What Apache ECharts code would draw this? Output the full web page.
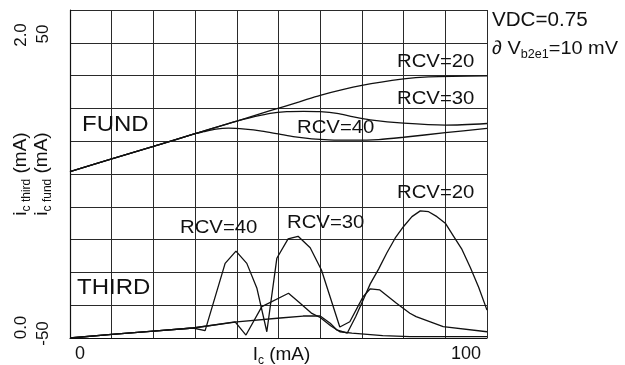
<!DOCTYPE html>
<html>
<head>
<meta charset="utf-8">
<script src="https://cdn.jsdelivr.net/npm/echarts@6/dist/echarts.min.js"></script>
<style>
  html, body { margin: 0; padding: 0; background: #fff; }
  #chart { width: 625px; height: 365px; }
</style>
</head>
<body>
<div id="chart"></div>
<script>
  // tick labels that are printed
  var xTickLabels = [0, 100];
  var fundTickLabels = [-50, 50];
  var thirdTickLabels = [0, 2];

  // fundamental current (mA) vs Ic (mA)
  var fund20 = [[0,0.7],[10,4.6],[20,8.4],[30,12.3],[40,16.1],[48,19.3],[55,22.0],[60,24.0],[70,27.0],[80,29.0],[86,29.6],[100,29.9]];
  var fund30 = [[0,0.7],[10,4.6],[20,8.4],[30,12.3],[40,16.1],[44,17.4],[48,18.5],[52,19.0],[56,19.1],[60,19.0],[64,18.5],[68,17.4],[72,16.5],[80,15.5],[90,14.9],[100,15.4]];
  var fund40 = [[0,0.7],[10,4.6],[20,8.4],[30,12.3],[32,12.9],[35,13.7],[38,14.0],[42,13.7],[46,13.1],[50,12.2],[54,11.3],[58,10.7],[62,10.4],[68,10.3],[74,10.5],[80,11.2],[90,12.6],[100,13.9]];

  // third harmonic current (mA) vs Ic (mA)
  var third40 = [[0,0],[10,0.022],[20,0.042],[29.5,0.061],[32.4,0.045],[37.2,0.455],[39.8,0.53],[42.4,0.455],[44.8,0.305],[47.2,0.038],[49.6,0.486],[52.3,0.604],[54.7,0.62],[57.6,0.55],[60.3,0.415],[64.7,0.067],[67.1,0.099],[70.3,0.252],[72,0.30],[74.3,0.293],[78.3,0.212],[81.5,0.151],[83,0.13],[89.5,0.069],[100,0.038]];
  var third30 = [[0,0],[10,0.022],[20,0.042],[29.5,0.061],[39.6,0.098],[42.2,0.018],[46,0.191],[52.4,0.273],[55.2,0.212],[58,0.15],[60,0.125],[62.5,0.075],[64.7,0.038],[67.6,0.030],[75,0.015],[81.5,0.008],[100,0.008]];
  var third20 = [[0,0],[10,0.022],[20,0.042],[29.5,0.061],[40,0.098],[50.4,0.122],[55.9,0.134],[60,0.134],[62.4,0.09],[64,0.049],[66.5,0.03],[68.5,0.13],[70.3,0.232],[72,0.33],[74,0.42],[76,0.52],[78,0.61],[80,0.68],[82,0.74],[84,0.775],[86,0.77],[88,0.74],[90,0.70],[92,0.62],[94,0.54],[96,0.43],[98,0.31],[100,0.17]];

  var font = 'Liberation Sans, Arial, Helvetica, sans-serif';
  var ink = '#111';
  var gridLine = { color: '#2a2a2a', width: 1 };

  function isTick(v, list) {
    for (var i = 0; i < list.length; i++) {
      if (Math.abs(v - list[i]) < 1e-6) return true;
    }
    return false;
  }

  function curve(name, data, yIndex, smooth) {
    return {
      name: name,
      type: 'line',
      data: data,
      yAxisIndex: yIndex,
      showSymbol: false,
      smooth: smooth,
      silent: true,
      lineStyle: { color: ink, width: 1.3 },
      z: 3
    };
  }

  function note(text, x, y, size, sx) {
    return {
      type: 'text', x: x, y: y, scaleX: sx, silent: true, z: 10,
      style: {
        text: text, x: 0, y: 0, align: 'left', verticalAlign: 'middle',
        fill: ink, fontSize: size, fontFamily: font,
        rich: {
          m: { fontSize: size, fontFamily: font, fill: ink, lineHeight: 24 },
          s: { fontSize: 12, fontFamily: font, fill: ink, lineHeight: 12, verticalAlign: 'bottom' }
        }
      }
    };
  }

  var nameRich = {
    m: { fontSize: 19, fontFamily: font, color: ink, lineHeight: 24 },
    s: { fontSize: 12, fontFamily: font, color: ink, lineHeight: 12, verticalAlign: 'bottom' }
  };

  var chart = echarts.init(document.getElementById('chart'));
  var option = {
    backgroundColor: '#fff',
    animation: false,
    grid: { left: 70, top: 10, right: 138, bottom: 27, containLabel: false, outerBoundsMode: 'none' },
    xAxis: {
      type: 'value', min: 0, max: 100, interval: 10,
      axisLine: { show: true, onZero: false, lineStyle: { color: ink, width: 1.2 } },
      axisTick: { show: false },
      splitLine: { show: true, lineStyle: gridLine },
      axisLabel: {
        showMinLabel: true, showMaxLabel: true, margin: 7,
        formatter: function (v) {
          if (!isTick(v, xTickLabels)) return '';
          return v === xTickLabels[0] ? '{lo|' + v + '}' : '{hi|' + v + '}';
        },
        rich: {
          lo: { fontSize: 18, fontFamily: font, color: ink, padding: [0, 0, 0, 20] },
          hi: { fontSize: 18, fontFamily: font, color: ink, padding: [0, 42, 0, 0] }
        }
      },
      name: '{m|I}{s|c}{m| (mA)}',
      nameLocation: 'middle', nameGap: 5, nameMoveOverlap: false,
      nameTextStyle: { rich: nameRich, padding: [0, 0, 0, 6] }
    },
    yAxis: [
      {
        type: 'value', min: -50, max: 50, interval: 10, position: 'left',
        axisLine: { show: true, onZero: false, lineStyle: { color: ink, width: 1.2 } },
        axisTick: { show: false },
        splitLine: { show: true, lineStyle: gridLine },
        axisLabel: {
          rotate: 90, margin: 18, showMinLabel: true, showMaxLabel: true,
          formatter: function (v) {
            if (!isTick(v, fundTickLabels)) return '';
            return v > 0 ? '{t|' + v + '}' : '{b|' + v + '}';
          },
          rich: {
            t: { fontSize: 17, fontFamily: font, color: ink, padding: [0, 48, 0, 0] },
            b: { fontSize: 17, fontFamily: font, color: ink, padding: [0, 0, 0, 9] }
          }
        },
        name: '{m|i}{s|c fund}{m| (mA)}',
        nameLocation: 'middle', nameRotate: 90, nameGap: 16, nameMoveOverlap: false,
        nameTextStyle: { rich: nameRich }
      },
      {
        type: 'value', min: 0, max: 2, interval: 0.2, position: 'left', offset: 0,
        axisLine: { show: false }, axisTick: { show: false }, splitLine: { show: false },
        axisLabel: {
          rotate: 90, margin: 40, showMinLabel: true, showMaxLabel: true,
          formatter: function (v) {
            if (!isTick(v, thirdTickLabels)) return '';
            return v > 0 ? '{t|' + v.toFixed(1) + '}' : '{b|' + v.toFixed(1) + '}';
          },
          rich: {
            t: { fontSize: 17, fontFamily: font, color: ink, padding: [0, 50, 0, 0] },
            b: { fontSize: 17, fontFamily: font, color: ink, padding: [0, 0, 0, 21] }
          }
        },
        name: '{m|i}{s|c third}{m| (mA)}',
        nameLocation: 'middle', nameRotate: 90, nameGap: 37, nameMoveOverlap: false,
        nameTextStyle: { rich: nameRich }
      }
    ],
    series: [
      curve('fund RCV=20', fund20, 0, 0.3),
      curve('fund RCV=30', fund30, 0, 0.3),
      curve('fund RCV=40', fund40, 0, 0.3),
      curve('third RCV=40', third40, 1, false),
      curve('third RCV=30', third30, 1, false),
      curve('third RCV=20', third20, 1, false)
    ],
    graphic: [
      note('VDC=0.75', 492, 20.5, 20, 1.03),
      note('{m|\u2202 V}{s|b2e1}{m|=10 mV}', 492, 49, 19, 1.05),
      note('RCV=20', 397, 61.5, 19, 1.07),
      note('RCV=30', 397, 99, 19, 1.07),
      note('RCV=40', 297, 127.5, 19, 1.07),
      note('FUND', 82, 124.5, 22, 1.09),
      note('THIRD', 77, 287.5, 22, 1.09),
      note('RCV=40', 180, 228, 19, 1.07),
      note('RCV=30', 287, 222.5, 19, 1.07),
      note('RCV=20', 397, 192.5, 19, 1.07)
    ]
  };
  chart.setOption(option);
</script>
</body>
</html>
